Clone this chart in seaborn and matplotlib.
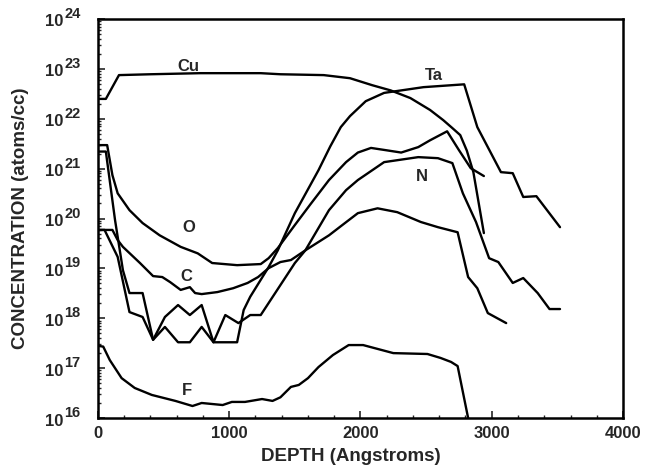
import pandas as pd
import seaborn as sns
import matplotlib.pyplot as plt
from matplotlib.ticker import LogLocator, MultipleLocator, NullFormatter, FixedLocator
from matplotlib.transforms import blended_transform_factory, offset_copy

# depth profiles (depth in Angstroms, conc in atoms/cc)
cu_depth = [0, 60, 160, 400, 780, 1240, 1390, 1720, 1920, 2090, 2230, 2380, 2530, 2630, 2700, 2760, 2810, 2860, 2940]
cu_conc = [2.5e22, 2.5e22, 7.5e22, 7.8e22, 8.2e22, 8.2e22, 7.8e22, 7.5e22, 6.5e22, 4.7e22, 3.7e22, 2.6e22,
           1.5e22, 9.4e21, 6.5e21, 4.7e21, 2.3e21, 8.5e20, 5.1e19]

ta_depth = [0, 60, 130, 190, 240, 340, 420, 510, 610, 700, 790, 880, 1060, 1110, 1160, 1300, 1370, 1500,
            1680, 1770, 1850, 1920, 2040, 2180, 2480, 2790, 2890, 2970, 3070, 3160, 3240, 3340, 3520]
ta_conc = [2.2e21, 2.2e21, 9.3e19, 9.2e18, 3.2e18, 3.2e18, 3.7e17, 6.7e17, 3.3e17, 3.3e17, 6.7e17, 3.3e17,
           3.3e17, 1.46e18, 2.7e18, 1.06e19, 2.3e19, 1.28e20, 9.3e20, 2.8e21, 6.8e21, 1.13e22, 2.25e22,
           3.3e22, 4.3e22, 4.9e22, 6.8e21, 2.7e21, 8.5e20, 8.1e20, 2.7e20, 2.8e20, 6.7e19]

n_depth = [0, 50, 150, 240, 340, 420, 510, 610, 700, 790, 880, 970, 1070, 1160, 1240, 1350, 1500, 1580,
           1760, 1890, 1980, 2180, 2440, 2590, 2700, 2780, 2880, 2980, 3050, 3160, 3240, 3350, 3440, 3520]
n_conc = [5.9e19, 5.9e19, 1.7e19, 1.33e18, 1.06e18, 3.7e17, 1.06e18, 1.84e18, 1.16e18, 1.84e18, 3.3e17,
          1.16e18, 8.0e17, 1.16e18, 1.16e18, 3.2e18, 1.28e19, 2.3e19, 1.47e20, 3.7e20, 5.9e20, 1.35e21,
          1.7e21, 1.62e21, 1.29e21, 3.2e20, 8.5e19, 1.6e19, 1.34e19, 5.1e18, 6.4e18, 3.2e18, 1.53e18, 1.53e18]

o_depth = [0, 70, 110, 150, 240, 340, 470, 630, 760, 870, 1060, 1240, 1300, 1370, 1500, 1620, 1760, 1890,
           1980, 2080, 2190, 2310, 2440, 2530, 2660, 2750, 2840, 2940]
o_conc = [2.96e21, 2.96e21, 7.4e20, 3.2e20, 1.47e20, 8.1e19, 4.6e19, 2.7e19, 2.0e19, 1.28e19, 1.16e19,
          1.22e19, 1.6e19, 2.55e19, 7.4e19, 1.95e20, 5.9e20, 1.35e21, 2.1e21, 2.6e21, 2.35e21, 2.1e21,
          2.7e21, 3.7e21, 5.6e21, 2.35e21, 1.02e21, 7.1e20]

c_depth = [0, 110, 150, 190, 320, 420, 490, 550, 630, 700, 740, 790, 910, 1030, 1140, 1220, 1300, 1390,
           1470, 1580, 1760, 1850, 1980, 2130, 2280, 2460, 2590, 2740, 2820, 2890, 2970, 3110]
c_conc = [5.9e19, 5.9e19, 3.7e19, 2.7e19, 1.28e19, 7.0e18, 6.7e18, 5.3e18, 3.7e18, 4.2e18, 3.2e18, 3.05e18,
          3.35e18, 4.0e18, 5.1e18, 6.7e18, 1.01e19, 1.34e19, 1.47e19, 2.3e19, 4.6e19, 7.0e19, 1.28e20,
          1.6e20, 1.34e20, 8.5e19, 6.7e19, 5.3e19, 6.7e18, 4.0e18, 1.27e18, 8.0e17]

f_depth = [0, 40, 90, 180, 280, 410, 590, 720, 790, 950, 1020, 1120, 1250, 1330, 1390, 1470, 1530, 1600,
           1680, 1790, 1910, 2020, 2250, 2510, 2610, 2690, 2740, 2820]
f_conc = [2.8e17, 2.7e17, 1.45e17, 6.3e16, 4.0e16, 2.9e16, 2.2e16, 1.74e16, 2.0e16, 1.82e16, 2.1e16,
          2.1e16, 2.4e16, 2.2e16, 2.6e16, 4.2e16, 4.6e16, 6.3e16, 1.05e17, 1.83e17, 2.9e17, 2.9e17, 2.0e17,
          1.92e17, 1.6e17, 1.33e17, 1.1e17, 1.0e16]

# curve labels: (text, depth, conc)
label_text = ['Cu', 'Ta', 'N', 'O', 'C', 'F']
label_depth = [690, 2560, 2470, 690, 670, 680]
label_conc = [1.12e23, 7.4e22, 7.1e20, 6.5e19, 6.8e18, 3.5e16]

x_ticks = [0, 1000, 2000, 3000, 4000]
y_exponents = [16, 17, 18, 19, 20, 21, 22, 23, 24]

sns.set_style('white')
plt.rcParams['font.family'] = ['Liberation Sans', 'DejaVu Sans']
plt.rcParams['font.weight'] = 'bold'

frames = []
for name, d, c in [('Cu', cu_depth, cu_conc), ('Ta', ta_depth, ta_conc), ('N', n_depth, n_conc),
                   ('O', o_depth, o_conc), ('C', c_depth, c_conc), ('F', f_depth, f_conc)]:
    frames.append(pd.DataFrame({'element': name, 'depth': d, 'conc': c}))
profiles = pd.concat(frames, ignore_index=True)

fig = plt.figure(figsize=(6.51, 4.75), dpi=100)
ax = fig.add_axes([0.1505, 0.12, 0.8065, 0.84])
sns.lineplot(data=profiles, x='depth', y='conc', units='element', estimator=None, sort=False,
             color='black', linewidth=1.7, ax=ax, legend=False)
ax.set_yscale('log')
ax.set_xlim(0, 4000)
ax.set_ylim(1e16, 1e24)

for t, d, c in zip(label_text, label_depth, label_conc):
    ax.text(d, c, t, ha='center', va='center', fontsize=12, fontweight='bold')

ax.xaxis.set_major_locator(FixedLocator(x_ticks))
ax.set_xticklabels([str(v) for v in x_ticks], fontsize=12, fontweight='bold')
ax.xaxis.set_minor_locator(MultipleLocator(200))
ax.yaxis.set_major_locator(FixedLocator([10.0 ** e for e in y_exponents]))
ax.set_yticklabels([])
ax.yaxis.set_minor_locator(LogLocator(base=10, subs=range(2, 10), numticks=20))
ax.yaxis.set_minor_formatter(NullFormatter())
ax.tick_params(which='major', direction='in', length=5, width=1.2, bottom=True, left=True, pad=6)
ax.tick_params(which='minor', direction='in', length=2.5, width=1, bottom=True, left=True)

# y tick labels as "10" with a raised exponent
blend = blended_transform_factory(ax.transAxes, ax.transData)
base_tr = offset_copy(blend, fig=fig, y=-3, units='dots')
sup_tr = offset_copy(blend, fig=fig, y=5, units='dots')
for e in y_exponents:
    ax.text(-0.066, 10.0 ** e, '10', transform=base_tr, ha='right', va='center',
            fontsize=12, fontweight='bold', clip_on=False)
    ax.text(-0.064, 10.0 ** e, str(e), transform=sup_tr, ha='left', va='center',
            fontsize=10.5, fontweight='bold', clip_on=False)

for s in ax.spines.values():
    s.set_color('black')
    s.set_linewidth(1.8)

ax.set_xlabel('DEPTH (Angstroms)', fontsize=13.5, fontweight='bold')
ax.set_ylabel('CONCENTRATION (atoms/cc)', fontsize=13.5, fontweight='bold')
ax.xaxis.set_label_coords(0.482, -0.075)
ax.yaxis.set_label_coords(-0.131, 0.5)

fig.savefig('out.png', dpi=100)
